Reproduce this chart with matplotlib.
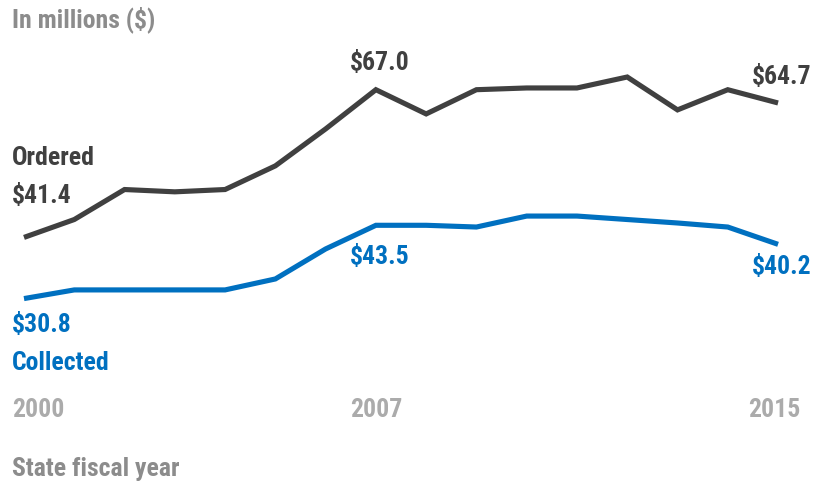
import matplotlib
matplotlib.use("Agg")
import matplotlib.pyplot as plt
from matplotlib import font_manager
from matplotlib.transforms import offset_copy

years = list(range(2000, 2016))
ordered = [41.4, 44.5, 49.7, 49.3, 49.7, 53.8, 60.2, 67.0, 62.8, 67.0, 67.3, 67.3, 69.2, 63.5, 67.0, 64.7]
collected = [30.8, 32.3, 32.3, 32.3, 32.3, 34.2, 39.4, 43.5, 43.5, 43.2, 45.1, 45.1, 44.5, 43.9, 43.2, 40.2]
tick_years = [2000, 2007, 2015]

available = {f.name for f in font_manager.fontManager.ttflist}
family = "DejaVu Sans"
for cand in ["Liberation Sans Narrow", "Roboto Condensed", "Open Sans Condensed", "DejaVu Sans Condensed", "Roboto"]:
    if cand in available:
        family = cand
        break
plt.rcParams["font.family"] = [family, "DejaVu Sans"]
plt.rcParams["font.weight"] = "bold"

DARK = "#404040"
BLUE = "#0070C0"
GRAY = "#8C8C8C"
LIGHT = "#ABABAB"

W, H = 814, 485
fig = plt.figure(figsize=(W / 100, H / 100), dpi=100)
ax = fig.add_axes([0, 0, 1, 1])
ax.set_axis_off()

px_per_year = 50.27
x0 = 24.0
px_per_unit = 5.77
y67 = 90.7
ax.set_xlim(2000 - x0 / px_per_year, 2000 + (W - x0) / px_per_year)
ax.set_ylim(67.0 - (H - y67) / px_per_unit, 67.0 + y67 / px_per_unit)

ax.plot(years, ordered, color=DARK, lw=3.7, solid_joinstyle="miter", solid_capstyle="butt")
ax.plot(years, collected, color=BLUE, lw=3.7, solid_joinstyle="miter", solid_capstyle="butt")

fs = 18.5
def ftext(px, py, s, color, ha="left", size=fs):
    fig.text(px / W, 1 - py / H, s, color=color, ha=ha, va="center", fontsize=size, fontweight="bold")

ftext(12, 20, "In millions ($)", GRAY)
ftext(12, 158, "Ordered", DARK)
ftext(12, 363, "Collected", BLUE)
ftext(12, 469, "State fiscal year", GRAY)

def vlabel(i, series, dy_px, color, ha="center", dx_px=0):
    tr = offset_copy(ax.transData, fig=fig, x=dx_px, y=dy_px, units="dots")
    ax.text(years[i], series[i], f"${series[i]:.1f}", transform=tr, color=color,
            ha=ha, va="center", fontsize=fs, fontweight="bold")

i0, i7, i15 = 0, 7, 15
vlabel(i0, ordered, 42, DARK, ha="left", dx_px=-12)
vlabel(i7, ordered, 28, DARK, dx_px=4)
vlabel(i15, ordered, 27, DARK, dx_px=4)
vlabel(i0, collected, -25, BLUE, ha="left", dx_px=-12)
vlabel(i7, collected, -31, BLUE, dx_px=4)
vlabel(i15, collected, -22, BLUE, dx_px=4)

year_row = 67.0 - (410 - y67) / px_per_unit
for yr in tick_years:
    idx = years.index(yr)
    dx = -12 if idx == 0 else (-4 if idx == len(years) - 1 else 0)
    tr = offset_copy(ax.transData, fig=fig, x=dx, y=0, units="dots")
    ax.text(yr, year_row, str(yr), transform=tr, color=LIGHT, ha=("left" if idx == 0 else "center"),
            va="center", fontsize=fs, fontweight="bold")

fig.savefig("out.png", dpi=100, facecolor="white")
